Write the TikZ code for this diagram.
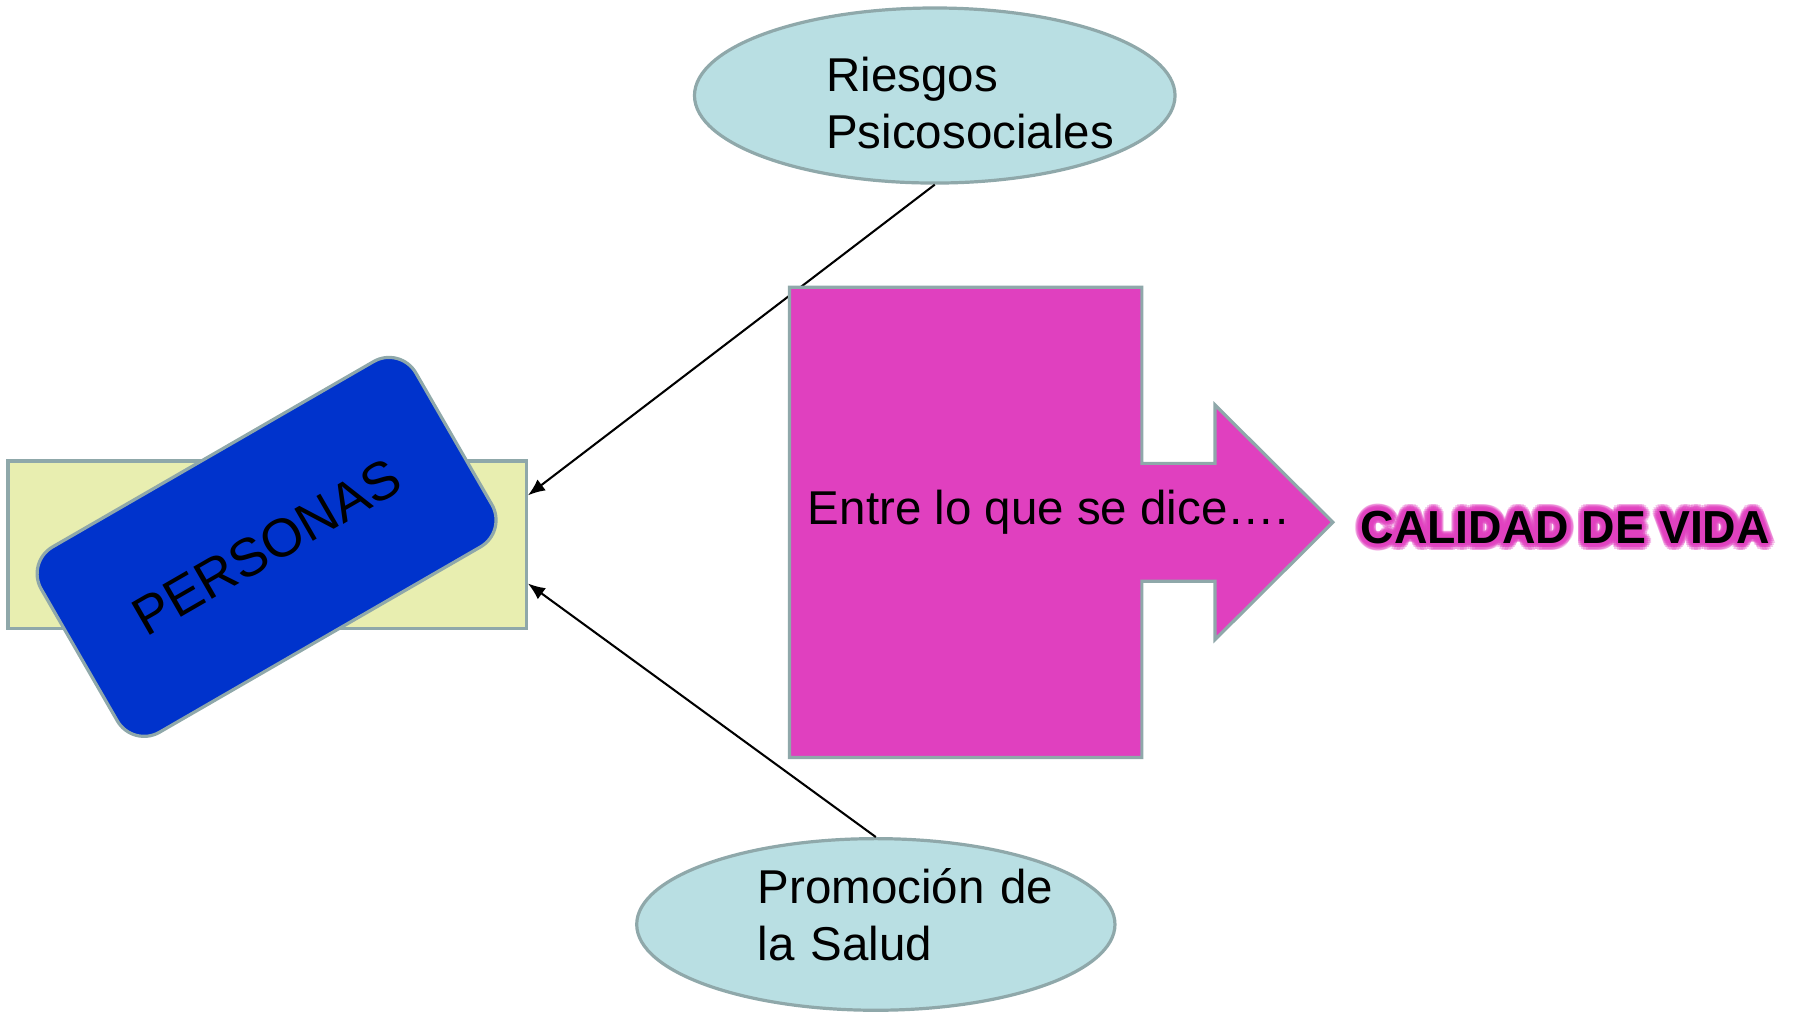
\documentclass[tikz,border=0pt]{standalone}
\usepackage{fontspec}
\setmainfont{Liberation Sans}
\usetikzlibrary{shapes.geometric,arrows.meta,calc}

\definecolor{edgegray}{HTML}{8FA8AA}
\definecolor{bubblefill}{HTML}{B9DFE3}
\definecolor{basefill}{HTML}{E8EEB0}
\definecolor{personasblue}{HTML}{0033CC}
\definecolor{arrowpink}{HTML}{E040BF}

\newcommand{\bigtext}{\fontsize{41.5}{49.5}\selectfont}
\newcommand{\calfont}{\fontsize{40.5}{48}\selectfont\bfseries}

\begin{document}
\begin{tikzpicture}[x=1pt,y=1pt,
	outline/.style={draw=edgegray, line width=2.8pt},
	bubble/.style={outline, ellipse, fill=bubblefill, inner sep=0pt},
	label text/.style={anchor=base west, inner sep=0pt, font=\bigtext},
	link/.style={line width=1.8pt, -{Latex[length=15pt,width=12pt]}},
	glow/.style={anchor=base west, inner sep=0pt, font=\calfont, text=arrowpink, text opacity=0.3}]
	\useasboundingbox (0,0) rectangle (1568,885);

	% ellipses
	\node[bubble, minimum width=420pt, minimum height=153pt] (riesgos) at (817,801.5) {};
	\node[bubble, minimum width=418pt, minimum height=150pt] (salud) at (765.5,77) {};
	\node[label text, text width=300pt, align=left] (riesgos text) at (722,805) {Riesgos\\Psicosociales};
	\node[label text, text width=300pt, align=left] (salud text) at (662,95) {Promoción de\\la Salud};

	% personas
	\node[outline, fill=basefill, minimum width=453pt, minimum height=146pt] (base) at (233.5,409) {};
	\node[outline, fill=personasblue, rounded corners=27pt, minimum width=378pt, minimum height=187pt, rotate=30, font=\fontsize{47}{56}\selectfont] (personas) at (233,407) {PERSONAS};

	\draw[link] (riesgos.south) -- ($(base.east)+(0,43)$);
	\draw[link] (salud.north) -- ($(base.east)+(0,-34)$);

	% big arrow
	\draw[outline, fill=arrowpink] (690,634) -- (998,634) -- (998,480) -- (1062,480) -- (1062,531) -- (1165,428.5)
		-- (1062,326) -- (1062,377) -- (998,377) -- (998,223) -- (690,223) -- cycle;
	\node[label text] (dice) at (706,427) {Entre lo que se dice….};

	% calidad de vida with glow
	\foreach \r in {2,4,6}
		\foreach \a in {0,20,...,340}
			\node[glow] (glow\r\a) at ($(1189,410)+(\a:\r)$) {CALIDAD DE VIDA};
	\node[anchor=base west, inner sep=0pt, font=\calfont] (calidad) at (1189,410) {CALIDAD DE VIDA};
\end{tikzpicture}
\end{document}
